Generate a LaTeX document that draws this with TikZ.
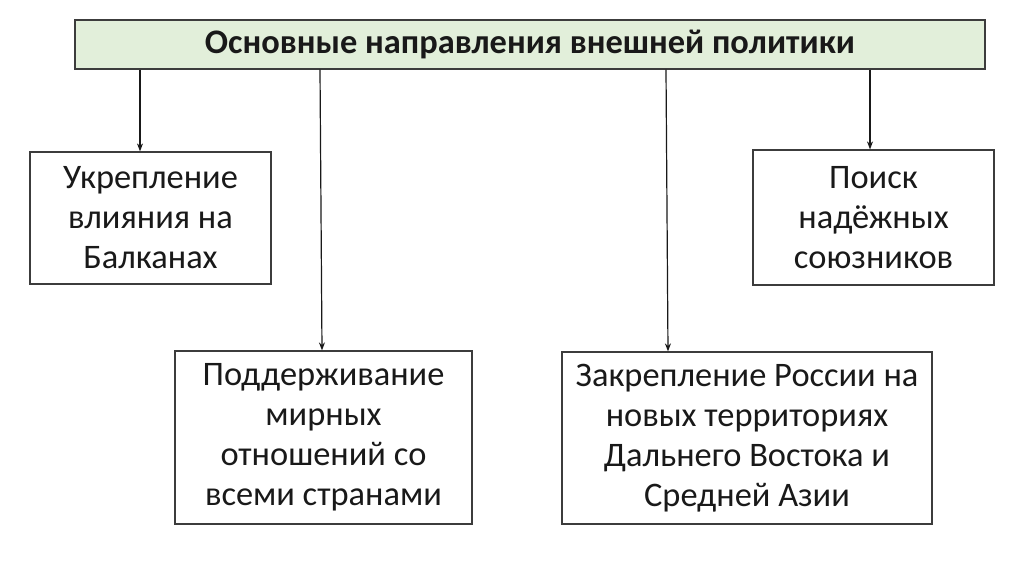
\documentclass[tikz,border=0pt]{standalone}
\usepackage{fontspec}
\setmainfont{Carlito}
\usepackage{tikz}
\usetikzlibrary{arrows.meta, positioning}
\definecolor{titlegreen}{RGB}{226, 239, 218}
\definecolor{edgegray}{RGB}{60, 60, 60}
\tikzset{
  titlebox/.style={draw=edgegray, fill=titlegreen, line width=1.1pt, inner sep=0pt,
    font=\fontsize{25.8}{30}\selectfont\bfseries, text=black!90},
  aimbox/.style={draw=edgegray, line width=0.9pt, inner sep=0pt, align=center,
    font=\fontsize{25.8}{30}\selectfont, text=black!90},
  linkarrow/.style={-{Stealth[length=6pt, width=4.5pt]}, line width=0.9pt, black!90}
}

\begin{document}
\begin{tikzpicture}[x=0.75pt, y=-0.75pt]
  \useasboundingbox (0,0) rectangle (1024,574);

  % Title
  \node[titlebox, minimum width=910*0.75pt, minimum height=49*0.75pt] (title) at (530, 44.5)
    {Основные направления внешней политики};

  % Upper boxes
  \node[aimbox, minimum width=241*0.75pt, minimum height=132*0.75pt] (balkans) at (150.5, 218)
    {Укрепление\\влияния на\\Балканах};
  \node[aimbox, minimum width=241*0.75pt, minimum height=135*0.75pt] (allies) at (873.5, 217.5)
    {Поиск\\надёжных\\союзников};

  % Lower boxes
  \node[aimbox, minimum width=297*0.75pt, minimum height=173*0.75pt] (peace) at (323.5, 437.5)
    {Поддерживание\\мирных\\отношений со\\всеми странами};
  \node[aimbox, minimum width=370*0.75pt, minimum height=172*0.75pt] (east) at (747, 438)
    {Закрепление России на\\новых территориях\\Дальнего Востока и\\Средней Азии};

  % Arrows
  \coordinate (ab) at (140, 0);
  \coordinate (ap) at (320, 0);
  \coordinate (ae) at (666, 0);
  \coordinate (aa) at (870, 0);
  \draw[linkarrow] (ab |- title.south) -- (ab |- balkans.north);
  \draw[linkarrow] (ap |- title.south) -- ([xshift=2*0.75pt]ap |- peace.north);
  \draw[linkarrow] (ae |- title.south) -- ([xshift=2*0.75pt]ae |- east.north);
  \draw[linkarrow] (aa |- title.south) -- (aa |- allies.north);
\end{tikzpicture}
\end{document}
